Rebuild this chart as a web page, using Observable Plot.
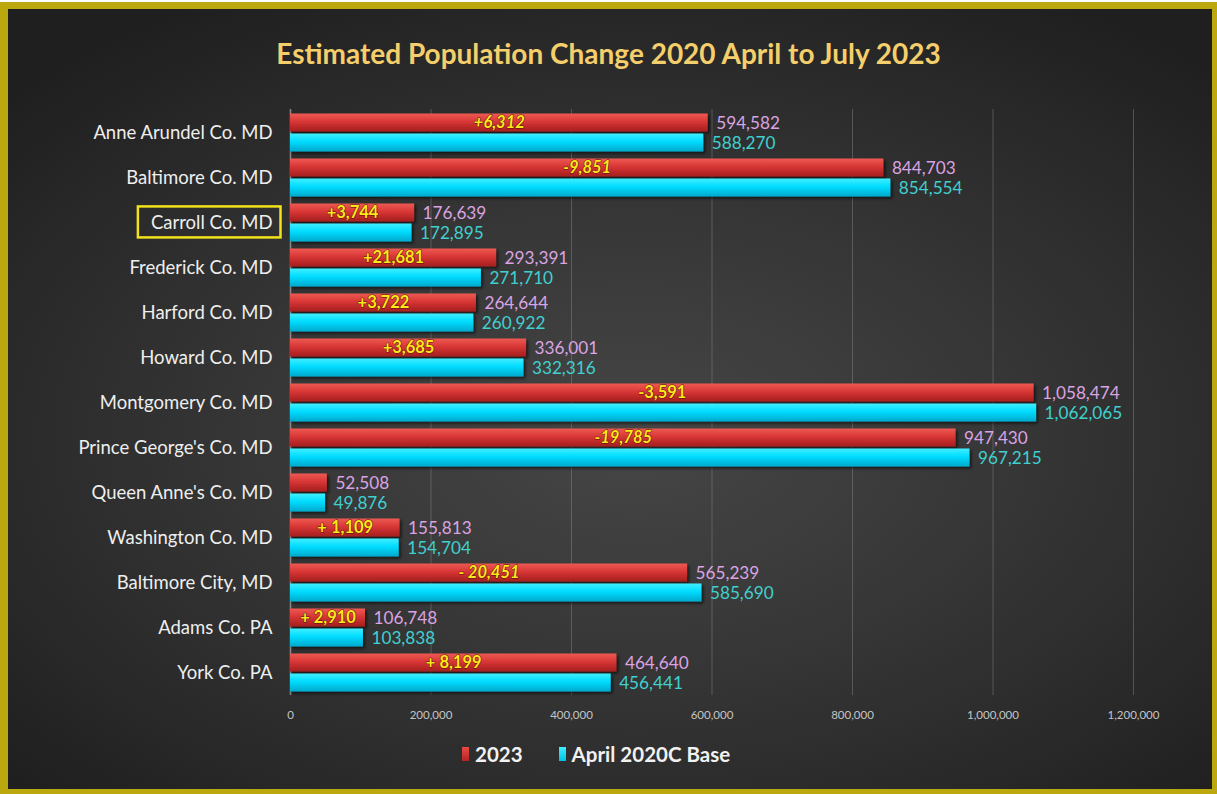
<!DOCTYPE html>
<html><head><meta charset="utf-8">
<script src="https://cdn.jsdelivr.net/npm/d3@7"></script>
<script src="https://cdn.jsdelivr.net/npm/@observablehq/plot@0.6"></script>
<style>
html,body{margin:0;padding:0;background:#fff;width:1217px;height:794px;overflow:hidden;}
#frame{position:absolute;left:0;top:0;width:1217px;height:794px;box-sizing:border-box;border-style:solid;border-color:#bba70e;border-width:9px 5px 5px 8px;
 background:radial-gradient(ellipse 70% 65% at 52% 55%, #464646 0%, #383838 40%, #2a2a2a 75%, #1f1f1f 100%);}
#top{position:absolute;left:0;top:0;width:1217px;height:2px;background:#fff;}
#title{position:absolute;left:0;width:1217px;top:36px;text-align:center;font:bold 28px Lato, sans-serif;color:#f4cf6b;}
#chart{position:absolute;left:0;top:0;}
#legend{position:absolute;left:462px;top:742px;display:flex;align-items:center;font:bold 20.5px Lato, sans-serif;color:#f2f2f2;}
.sw{display:inline-block;width:7px;height:14px;margin-right:6px;}
.item{display:flex;align-items:center;margin-right:36px;}
</style></head>
<body>
<div id="frame"></div>
<div id="top"></div>
<div id="title">Estimated Population Change 2020 April to July 2023</div>
<div id="chart"></div>
<div id="legend"></div>
<script>
const counties = ["Anne Arundel Co. MD","Baltimore Co. MD","Carroll Co. MD","Frederick Co. MD","Harford Co. MD","Howard Co. MD","Montgomery Co. MD","Prince George's Co. MD","Queen Anne's Co. MD","Washington Co. MD","Baltimore City, MD","Adams Co. PA","York Co. PA"];
const pop2023 = [594582, 844703, 176639, 293391, 264644, 336001, 1058474, 947430, 52508, 155813, 565239, 106748, 464640];
const base2020 = [588270, 854554, 172895, 271710, 260922, 332316, 1062065, 967215, 49876, 154704, 585690, 103838, 456441];
const changeLabels = ["+6,312","-9,851","+3,744","+21,681","+3,722","+3,685","-3,591","-19,785","","+ 1,109","- 20,451","+ 2,910","+ 8,199"];
const italicFlags = [true,true,false,false,false,false,false,true,false,false,true,false,false];
const xTicks = [0,200000,400000,600000,800000,1000000,1200000];
const seriesNames = ["2023","April 2020C Base"];
const seriesColors = ["#d83636","#00dcff"];
const highlighted = "Carroll Co. MD";

const rows = counties.map((c,i)=>({county:c, v23:pop2023[i], v20:base2020[i], change:changeLabels[i], italic:italicFlags[i]}));
const fmt = d3.format(",");

const chart = Plot.plot({
  width:1217, height:740,
  marginLeft:290, marginRight:84, marginTop:109, marginBottom:45,
  style:{background:"transparent", fontFamily:"Lato, sans-serif", color:"#eee", overflow:"visible"},
  x:{domain:[0,1200000]},
  y:{domain:counties, padding:0},
  marks:[
    Plot.gridX(xTicks.slice(1), {stroke:"#8a8a8a", strokeOpacity:0.45}),
    Plot.ruleX([0], {stroke:"#8a8a8a", strokeWidth:1.5}),
    Plot.barX(rows, {y:"county", x:"v23", fill:seriesColors[0], insetTop:3.5, insetBottom:23.5}),
    Plot.barX(rows, {y:"county", x:"v20", fill:seriesColors[1], insetTop:23.5, insetBottom:3.5}),
    Plot.text(rows, {y:"county", x:"v23", text:d=>fmt(d.v23), dx:8, dy:-10, textAnchor:"start", fill:"#dba3e3", fontSize:17.2}),
    Plot.text(rows, {y:"county", x:"v20", text:d=>fmt(d.v20), dx:8, dy:10, textAnchor:"start", fill:"#3fd0d0", fontSize:17.2}),
    Plot.text(rows.filter(d=>d.italic), {y:"county", x:d=>d.v23/2, text:"change", dy:-10, fill:"#ffe81a", fontSize:16.5, fontWeight:"bold", fontStyle:"italic", stroke:"#5a0c0c", strokeWidth:1, paintOrder:"stroke"}),
    Plot.text(rows.filter(d=>!d.italic), {y:"county", x:d=>d.v23/2, text:"change", dy:-10, fill:"#ffe81a", fontSize:16.5, fontWeight:"bold", stroke:"#5a0c0c", strokeWidth:1, paintOrder:"stroke"}),
    Plot.axisX({ticks:xTicks, tickSize:0, tickPadding:15, tickFormat:fmt, fontSize:11.5, fill:"#c4c4c4", label:null}),
    Plot.axisY({tickSize:0, tickPadding:18, fontSize:18.5, fill:"#eeeeee", label:null})
  ]
});
document.getElementById("chart").appendChild(chart);

// gradients & shadow
const svg = d3.select(chart);
const defs = svg.insert("defs", ":first-child");
const g1 = defs.append("linearGradient").attr("id","gRed").attr("x1",0).attr("y1",0).attr("x2",0).attr("y2",1);
g1.append("stop").attr("offset","0%").attr("stop-color","#ee5a52");
g1.append("stop").attr("offset","45%").attr("stop-color","#d83636");
g1.append("stop").attr("offset","100%").attr("stop-color","#a51e1e");
const g2 = defs.append("linearGradient").attr("id","gCyan").attr("x1",0).attr("y1",0).attr("x2",0).attr("y2",1);
g2.append("stop").attr("offset","0%").attr("stop-color","#40eeff");
g2.append("stop").attr("offset","45%").attr("stop-color","#00dcff");
g2.append("stop").attr("offset","100%").attr("stop-color","#00a9cc");
const f = defs.append("filter").attr("id","shadow").attr("x","-5%").attr("y","-30%").attr("width","110%").attr("height","170%");
f.append("feDropShadow").attr("dx",2).attr("dy",2).attr("stdDeviation",1.5).attr("flood-color","#000").attr("flood-opacity",0.6);
svg.selectAll(`g[fill="${seriesColors[0]}"]`).attr("fill","url(#gRed)").attr("filter","url(#shadow)");
svg.selectAll(`g[fill="${seriesColors[1]}"]`).attr("fill","url(#gCyan)").attr("filter","url(#shadow)");

// highlight box around Carroll label
svg.selectAll('g[aria-label="y-axis tick label"] text').each(function(){
  if (this.textContent === highlighted) {
    const b = this.getBBox();
    const t = this.getAttribute("transform");
    d3.select(this.parentNode).insert("rect", ":first-child")
      .attr("transform", t)
      .attr("x", b.x-13).attr("y", b.y + b.height/2 - 15.5)
      .attr("width", b.width+21).attr("height", 31)
      .attr("fill","none").attr("stroke","#f2e21c").attr("stroke-width",2.5);
  }
});

// legend
const leg = d3.select("#legend");
seriesNames.forEach((n,i)=>{
  const it = leg.append("div").attr("class","item");
  it.append("span").attr("class","sw").style("background", i===0 ? "linear-gradient(#e84a44,#b52424)" : "linear-gradient(#40eeff,#00bfe6)");
  it.append("span").text(n);
});
</script>
</body></html>
